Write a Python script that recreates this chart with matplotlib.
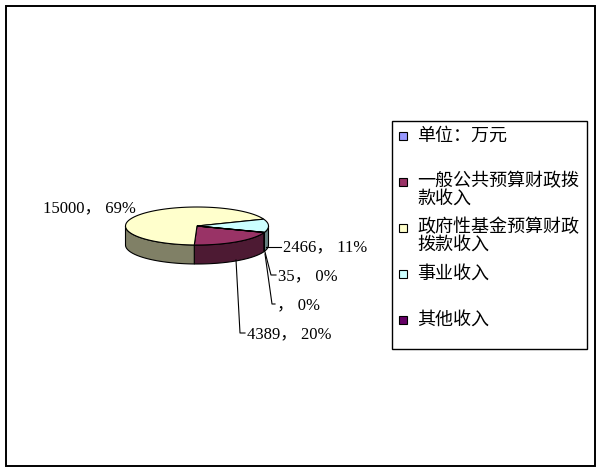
import numpy as np
import matplotlib.pyplot as plt
from matplotlib.patches import Polygon, Rectangle

# dati (valori in 万元)
categories = ['单位：万元', '一般公共预算财政拨\n款收入', '政府性基金预算财政\n拨款收入', '事业收入', '其他收入']
values = [None, 4389, 15000, 2466, 35]
top_colors = ['#9999FF', '#993366', '#FFFFCC', '#CCFFFF', '#660066']
side_colors = ['#4D4D80', '#4D1A33', '#808066', '#668080', '#330033']

# posizioni etichette (pixel) e punti delle linee guida
label_pos = [(277, 305), (247, 334), (43, 208), (283, 247), (278, 276)]
leaders = [
    [(265, 254), (272, 304), (275, 304)],
    [(236, 260), (240, 333), (245, 333)],
    None,
    [(266, 247), (281, 247)],
    [(265, 252), (271, 275), (276, 275)],
]

W, H = 600, 473
fig = plt.figure(figsize=(W / 100, H / 100), dpi=100)
ax = fig.add_axes([0, 0, 1, 1])
ax.set_xlim(0, W)
ax.set_ylim(H, 0)
ax.axis('off')

# bordo esterno
ax.add_patch(Rectangle((6, 6), 589, 460, fill=False, edgecolor='black', linewidth=1.4))

# torta 3D
cx, cy, rx, ry, depth = 197, 226, 71.5, 19, 19
start = -20.0
vals = np.array([v if v else 0 for v in values], dtype=float)
total = vals.sum()
fracs = vals / total


def arc(a, b, dy=0, n=80):
    t = np.radians(np.linspace(a, b, n))
    return np.column_stack([cx + rx * np.cos(t), cy - ry * np.sin(t) + dy])


ang = start
slices = []
for f in fracs:
    hi = ang
    lo = ang - f * 360
    slices.append((lo, hi))
    ang = lo

# pareti laterali (solo metà frontale)
for (lo, hi), sc in zip(slices, side_colors):
    if hi - lo <= 0:
        continue
    for k in (-1, 0, 1):
        a = max(lo + k * 360, -180)
        b = min(hi + k * 360, 0)
        if a < b:
            pts = np.vstack([arc(a, b), arc(b, a, dy=depth)])
            ax.add_patch(Polygon(pts, closed=True, facecolor=sc, edgecolor='black',
                                 linewidth=0.8, zorder=2))

# facce superiori
for (lo, hi), tc in zip(slices, top_colors):
    if hi - lo <= 0:
        continue
    pts = np.vstack([[cx, cy], arc(lo, hi)])
    ax.add_patch(Polygon(pts, closed=True, facecolor=tc, edgecolor='black',
                         linewidth=0.8, zorder=3))

# etichette dati
for v, f, (lx, ly), ld in zip(values, fracs, label_pos, leaders):
    txt = f"{v if v else ''}， {round(f * 100)}%"
    ax.text(lx, ly, txt, ha='left', va='center', fontsize=12,
            family=['Liberation Serif', 'Noto Sans CJK SC'], zorder=5)
    if ld:
        xs, ys = zip(*ld)
        ax.plot(xs, ys, color='black', linewidth=0.8, zorder=4)

# legenda
ax.add_patch(Rectangle((392, 121), 195, 228, fill=False, edgecolor='black', linewidth=1.0))
for i, (cat, col) in enumerate(zip(categories, top_colors)):
    y = 136 + i * 46
    ax.add_patch(Rectangle((399, y - 4), 8, 8, facecolor=col, edgecolor='black', linewidth=0.8))
    ax.text(417, y - 9.5, cat, ha='left', va='top', fontsize=13,
            family=['Noto Sans CJK SC'], linespacing=0.92)

fig.savefig('out.png', dpi=100, facecolor='white')
